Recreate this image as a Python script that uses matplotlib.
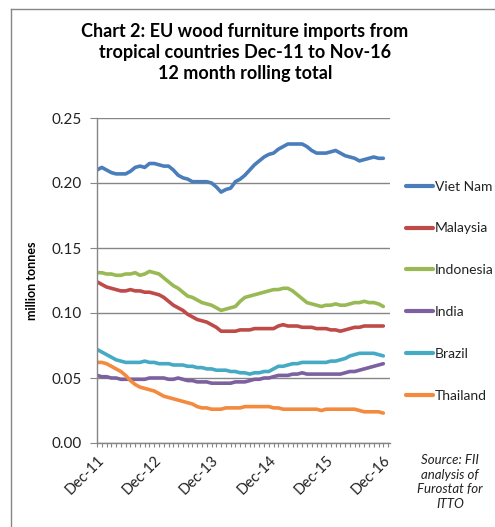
import matplotlib
matplotlib.use("Agg")
import matplotlib.pyplot as plt
from matplotlib.lines import Line2D
import numpy as np

months = ["Dec-11", "Dec-12", "Dec-13", "Dec-14", "Dec-15", "Dec-16"]

viet_nam = [0.210, 0.212, 0.210, 0.208, 0.207, 0.207, 0.207, 0.209, 0.212, 0.213,
            0.212, 0.215, 0.215, 0.214, 0.213, 0.213, 0.210, 0.206, 0.204, 0.203,
            0.201, 0.201, 0.201, 0.201, 0.200, 0.197, 0.193, 0.195, 0.196, 0.201,
            0.203, 0.206, 0.210, 0.214, 0.217, 0.220, 0.222, 0.223, 0.226, 0.228,
            0.230, 0.230, 0.230, 0.230, 0.228, 0.225, 0.223, 0.223, 0.223, 0.224,
            0.225, 0.223, 0.221, 0.220, 0.219, 0.217, 0.218, 0.219, 0.220, 0.219,
            0.219]
malaysia = [0.124, 0.122, 0.120, 0.119, 0.118, 0.117, 0.117, 0.118, 0.117, 0.117,
            0.116, 0.116, 0.115, 0.114, 0.112, 0.109, 0.106, 0.104, 0.102, 0.099,
            0.097, 0.095, 0.094, 0.093, 0.091, 0.089, 0.086, 0.086, 0.086, 0.086,
            0.087, 0.087, 0.087, 0.088, 0.088, 0.088, 0.088, 0.088, 0.090, 0.091,
            0.090, 0.090, 0.090, 0.089, 0.089, 0.089, 0.088, 0.088, 0.088, 0.087,
            0.087, 0.086, 0.087, 0.088, 0.089, 0.089, 0.090, 0.090, 0.090, 0.090,
            0.090]
indonesia = [0.131, 0.131, 0.130, 0.130, 0.129, 0.129, 0.130, 0.130, 0.131, 0.129,
             0.130, 0.132, 0.131, 0.130, 0.127, 0.124, 0.121, 0.119, 0.116, 0.113,
             0.112, 0.110, 0.108, 0.107, 0.106, 0.104, 0.102, 0.103, 0.104, 0.105,
             0.109, 0.112, 0.113, 0.114, 0.115, 0.116, 0.117, 0.118, 0.118, 0.119,
             0.119, 0.117, 0.114, 0.111, 0.108, 0.107, 0.106, 0.105, 0.106, 0.106,
             0.107, 0.106, 0.106, 0.107, 0.108, 0.108, 0.109, 0.108, 0.108, 0.107,
             0.105]
india = [0.052, 0.051, 0.051, 0.050, 0.050, 0.049, 0.049, 0.049, 0.049, 0.049,
         0.049, 0.050, 0.050, 0.050, 0.050, 0.049, 0.049, 0.050, 0.049, 0.048,
         0.048, 0.047, 0.047, 0.047, 0.046, 0.046, 0.046, 0.046, 0.046, 0.047,
         0.047, 0.047, 0.048, 0.049, 0.049, 0.050, 0.050, 0.051, 0.052, 0.052,
         0.052, 0.053, 0.053, 0.054, 0.053, 0.053, 0.053, 0.053, 0.053, 0.053,
         0.053, 0.053, 0.054, 0.055, 0.055, 0.056, 0.057, 0.058, 0.059, 0.060,
         0.061]
brazil = [0.072, 0.070, 0.068, 0.066, 0.064, 0.063, 0.062, 0.062, 0.062, 0.062,
          0.063, 0.062, 0.062, 0.061, 0.061, 0.061, 0.060, 0.060, 0.060, 0.059,
          0.059, 0.058, 0.058, 0.057, 0.057, 0.056, 0.056, 0.056, 0.055, 0.055,
          0.054, 0.054, 0.053, 0.054, 0.054, 0.055, 0.055, 0.057, 0.059, 0.059,
          0.060, 0.061, 0.061, 0.062, 0.062, 0.062, 0.062, 0.062, 0.062, 0.063,
          0.063, 0.064, 0.065, 0.067, 0.068, 0.069, 0.069, 0.069, 0.069, 0.068,
          0.067]
thailand = [0.062, 0.062, 0.061, 0.059, 0.057, 0.055, 0.052, 0.048, 0.045, 0.043,
            0.042, 0.041, 0.040, 0.038, 0.036, 0.035, 0.034, 0.033, 0.032, 0.031,
            0.030, 0.028, 0.027, 0.027, 0.026, 0.026, 0.026, 0.027, 0.027, 0.027,
            0.027, 0.028, 0.028, 0.028, 0.028, 0.028, 0.028, 0.027, 0.027, 0.026,
            0.026, 0.026, 0.026, 0.026, 0.026, 0.026, 0.026, 0.025, 0.026, 0.026,
            0.026, 0.026, 0.026, 0.026, 0.026, 0.025, 0.024, 0.024, 0.024, 0.024,
            0.023]

series = [("Viet Nam", viet_nam, "#4A7EBB"),
          ("Malaysia", malaysia, "#BE4B48"),
          ("Indonesia", indonesia, "#98B954"),
          ("India", india, "#7D60A0"),
          ("Brazil", brazil, "#46AAC5"),
          ("Thailand", thailand, "#F38A3E")]

yticks = [0.00, 0.05, 0.10, 0.15, 0.20, 0.25]

plt.rcParams['font.family'] = ['Lato', 'DejaVu Sans']

fig = plt.figure(figsize=(4.95, 5.27), dpi=100)
W, H = 495, 527
ax = fig.add_axes([97 / W, 1 - 443 / H, (390 - 97) / W, (443 - 118) / H])

x = np.arange(len(viet_nam))
for name, vals, col in series:
    ax.plot(x, vals, color=col, lw=2.6, solid_capstyle='round', label=name)

ax.set_ylim(0, 0.25)
ax.set_xlim(0, 61.4)
ax.set_yticks(yticks)
ax.set_yticklabels([f"{v:.2f}" for v in yticks], fontsize=11, color="#222222")
ax.set_xticks(np.arange(0, 61, 12))
ax.set_xticklabels(months, rotation=45, ha='right', rotation_mode='anchor',
                   fontsize=10.5, color="#222222")
ax.set_xticks(np.arange(0, 62, 1), minor=True)
ax.tick_params(axis='x', which='both', length=3, width=0.8, color="#868686", pad=4)
ax.tick_params(axis='y', length=5, width=0.8, color="#868686", pad=6)
ax.grid(axis='y', color="#868686", lw=1)
ax.set_axisbelow(True)
for s in ['top', 'right']:
    ax.spines[s].set_visible(False)
for s in ['left', 'bottom']:
    ax.spines[s].set_color("#868686")
    ax.spines[s].set_linewidth(1)

ax.set_ylabel("million tonnes", fontsize=9, fontweight='bold', labelpad=10)

# legend
handles = [Line2D([0], [0], color=c, lw=3, solid_capstyle='round') for _, _, c in series]
leg = fig.legend(handles, [n for n, _, _ in series], loc='upper left',
                 bbox_to_anchor=(393 / W, 1 - 168 / H), frameon=False,
                 fontsize=10, handlelength=2.0, handletextpad=0.1,
                 labelspacing=2.15, labelcolor="#222222")

# title
title_lines = ["Chart 2: EU wood furniture imports from",
               "tropical countries Dec-11 to Nov-16",
               "12 month rolling total"]
for i, t in enumerate(title_lines):
    fig.text(245 / W, 1 - (32 + 20.5 * i) / H, t, ha='center', va='center',
             fontsize=13, fontweight='bold')

# source
fig.text(450 / W, 1 - 482 / H, "Source: FII\nanalysis of\nFurostat for\nITTO", ha='center',
         va='center', fontsize=9.5, style='italic', linespacing=1.25, color="#222222")

# chart border
fig.add_artist(Line2D([11 / W, 1], [1 - 9 / H, 1 - 9 / H], color="#868686", lw=1))
fig.add_artist(Line2D([11 / W, 11 / W], [0, 1 - 9 / H], color="#868686", lw=1))

fig.savefig("out.png", dpi=100)
